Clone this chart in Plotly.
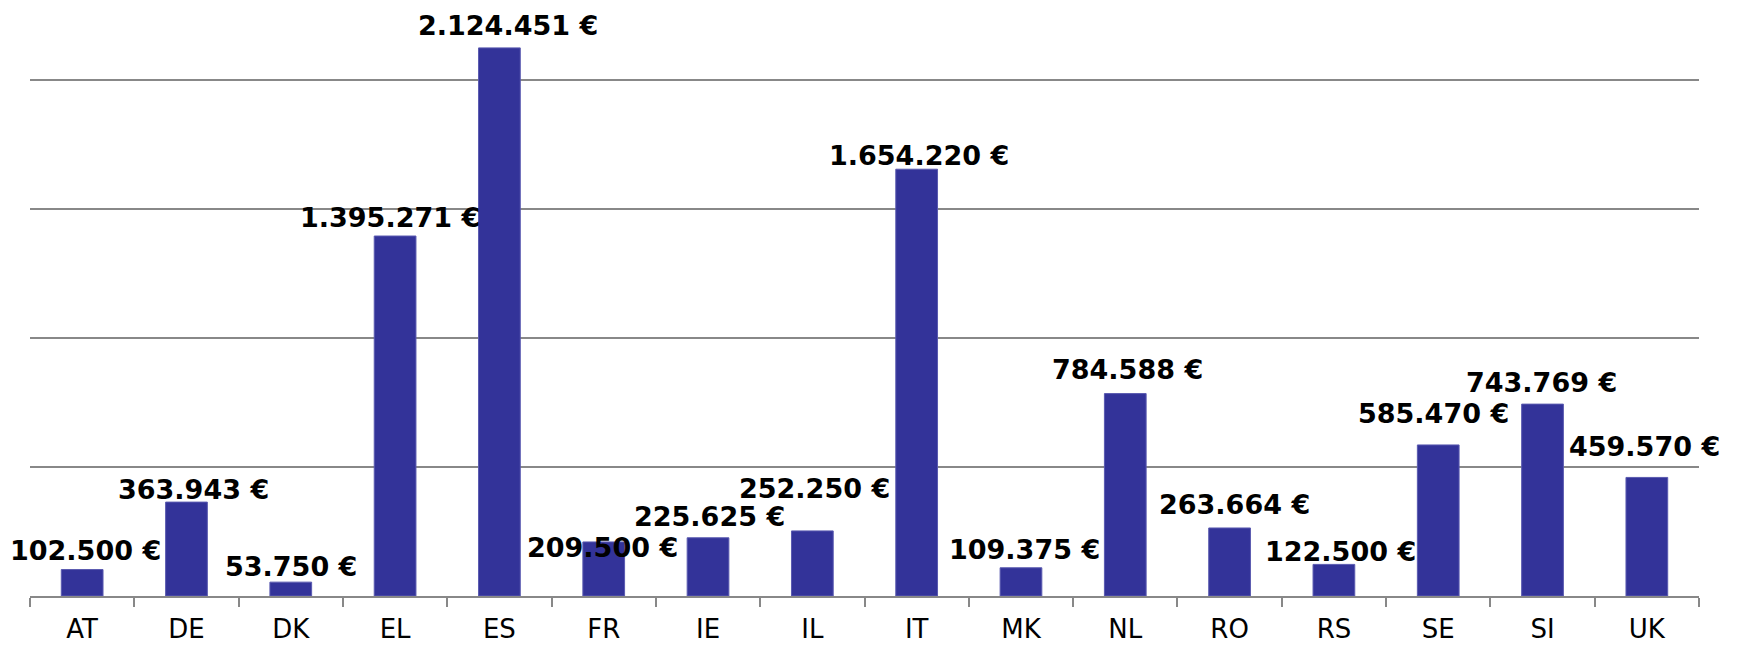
import plotly.graph_objects as go

countries = ["AT", "DE", "DK", "EL", "ES", "FR", "IE", "IL", "IT", "MK", "NL", "RO", "RS", "SE", "SI", "UK"]
amounts = [102500, 363943, 53750, 1395271, 2124451, 209500, 225625, 252250,
           1654220, 109375, 784588, 263664, 122500, 585470, 743769, 459570]
# label offsets in pixels (x, y) relative to bar top, as placed in the original
label_dx = [3, 7, 0, -5, 9, -1, 1, 2, 2, 4, 2, 5, 7, -5, -1, -2]
label_dy = [19, 13, 16, 19, 22, -6, 21, 42, 14, 18, 24, 23, 13, 31, 22, 31]

def fmt(v):
    return f"{v:,}".replace(",", ".") + " €"

fig = go.Figure()
fig.add_trace(go.Bar(
    x=countries, y=amounts,
    marker=dict(color="#333399", line=dict(color="#5a5ab0", width=1)),
    width=0.4,
))

for c, v, dx, dy in zip(countries, amounts, label_dx, label_dy):
    fig.add_annotation(
        x=c, y=v, text=fmt(v), showarrow=False,
        xanchor="center", yanchor="middle", xshift=dx, yshift=dy,
        borderpad=0,
        font=dict(family="DejaVu Sans", size=27, color="#000000", weight="bold"),
    )

# page body has an 8px default margin; compensate so the plot lands where the original is
ymax = (596 - 8) / 258 * 1_000_000
fig.update_layout(
    width=1729, height=638,
    margin=dict(l=22, r=38, t=0, b=50),
    paper_bgcolor="white", plot_bgcolor="white",
    showlegend=False,
    xaxis=dict(
        type="category", range=[-0.5, 15.5], automargin=False,
        showline=True, linecolor="#888888", linewidth=1.5,
        ticks="outside", tickson="boundaries", ticklen=9, tickcolor="#888888", tickwidth=1.5,
        tickfont=dict(family="DejaVu Sans", size=26, color="#000000"),
        ticklabelstandoff=9,
        showgrid=False,
    ),
    yaxis=dict(
        range=[0, ymax], dtick=500000, showticklabels=False, automargin=False,
        showgrid=True, gridcolor="#888888", gridwidth=1.5,
        zeroline=False, showline=False, ticks="",
    ),
)

fig.write_html("out.html")
